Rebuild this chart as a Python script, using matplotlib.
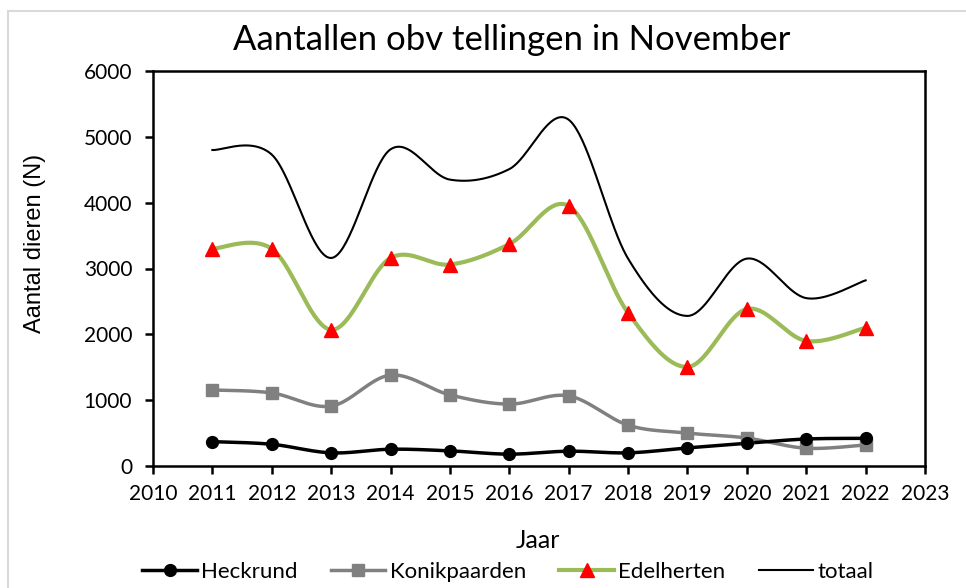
import numpy as np
import matplotlib
matplotlib.use("Agg")
import matplotlib.pyplot as plt
from matplotlib.patches import Rectangle
from matplotlib.lines import Line2D
from matplotlib.font_manager import FontProperties

plt.rcParams['font.family'] = ['Lato', 'DejaVu Sans']

years = [2011, 2012, 2013, 2014, 2015, 2016, 2017, 2018, 2019, 2020, 2021, 2022]
heckrund = [370, 330, 200, 255, 230, 180, 225, 200, 275, 345, 410, 420]
konikpaarden = [1155, 1110, 910, 1380, 1080, 940, 1065, 620, 500, 425, 270, 320]
edelherten = [3300, 3300, 2070, 3160, 3060, 3370, 3950, 2325, 1505, 2385, 1900, 2100]
totaal = [4800, 4730, 3160, 4810, 4350, 4510, 5260, 3150, 2280, 3150, 2550, 2820]

title = "Aantallen obv tellingen in November"
xlabel = "Jaar"
ylabel = "Aantal dieren (N)"
labels = ["Heckrund", "Konikpaarden", "Edelherten", "totaal"]


def smooth(xs, ys, n=40):
    """Excel-like smoothed line: cubic Bezier with Catmull-Rom control points."""
    x = np.asarray(xs, float)
    y = np.asarray(ys, float)
    px = np.concatenate([[x[0]], x, [x[-1]]])
    py = np.concatenate([[y[0]], y, [y[-1]]])
    ox, oy = [], []
    t = np.linspace(0, 1, n)
    for i in range(1, len(px) - 2):
        p0 = np.array([px[i], py[i]])
        p3 = np.array([px[i + 1], py[i + 1]])
        c1 = p0 + (np.array([px[i + 1], py[i + 1]]) - np.array([px[i - 1], py[i - 1]])) / 6
        c2 = p3 - (np.array([px[i + 2], py[i + 2]]) - np.array([px[i], py[i]])) / 6
        b = ((1 - t) ** 3)[:, None] * p0 + (3 * (1 - t) ** 2 * t)[:, None] * c1 \
            + (3 * (1 - t) * t ** 2)[:, None] * c2 + (t ** 3)[:, None] * p3
        ox.extend(b[:, 0])
        oy.extend(b[:, 1])
    return ox, oy


fig = plt.figure(figsize=(9.66, 5.88), dpi=100)
ax = fig.add_axes([153 / 966, 1 - 466 / 588, (925 - 153) / 966, (466 - 71) / 588])

fig.patches.append(Rectangle((8 / 966, -0.05), 1.2, 1 - 11 / 588 + 0.05, transform=fig.transFigure,
                             fill=False, edgecolor='#d9d9d9', linewidth=1.5))

green = '#9bbb59'
gray = '#808080'

sx, sy = smooth(years, totaal)
ax.plot(sx, sy, color='black', lw=1.5, zorder=2)

sx, sy = smooth(years, edelherten)
ax.plot(sx, sy, color=green, lw=3.0, zorder=3)
ax.plot(years, edelherten, ls='none', marker='^', color='red', ms=10, zorder=4)

sx, sy = smooth(years, konikpaarden)
ax.plot(sx, sy, color=gray, lw=2.5, zorder=3)
ax.plot(years, konikpaarden, ls='none', marker='s', color=gray, ms=8.5, zorder=4)

sx, sy = smooth(years, heckrund)
ax.plot(sx, sy, color='black', lw=2.5, zorder=3)
ax.plot(years, heckrund, ls='none', marker='o', color='black', ms=8.5, zorder=4)

handles = [
    Line2D([], [], color='black', lw=2.5, marker='o', ms=8.5),
    Line2D([], [], color=gray, lw=2.5, marker='s', ms=8.5, mfc=gray, mec=gray),
    Line2D([], [], color=green, lw=3.0, marker='^', ms=10, mfc='red', mec='red'),
    Line2D([], [], color='black', lw=1.5),
]
fig.legend(handles, labels, loc='center', bbox_to_anchor=(508 / 966, 1 - 572 / 588), ncol=4,
           frameon=False, fontsize=16, handlelength=2.45, handletextpad=0.2, columnspacing=1.5)

ax.set_xlim(2010, 2023)
ax.set_ylim(0, 6000)
ax.set_xticks(range(2010, 2024))
ax.set_yticks(range(0, 6001, 1000))
ax.tick_params(axis='both', direction='out', length=6, width=1.8, labelsize=15, color='black')
ax.tick_params(axis='x', pad=7)
ax.tick_params(axis='y', pad=9)
for s in ax.spines.values():
    s.set_linewidth(1.8)
    s.set_color('black')

fig.text(538 / 966, 1 - 540 / 588, xlabel, ha='center', va='center', fontsize=18)
yfont = FontProperties(family=['Liberation Sans', 'DejaVu Sans'], size=17)
fig.text(35 / 966, 1 - 243 / 588, ylabel, ha='center', va='center', rotation=90,
         fontproperties=yfont)
fig.text(512 / 966, 1 - 40 / 588, title, ha='center', va='center', fontsize=25)

fig.savefig("out.png", dpi=100)
